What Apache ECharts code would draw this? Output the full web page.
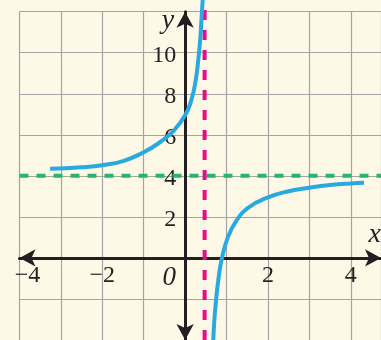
<!DOCTYPE html>
<html>
<head>
<meta charset="utf-8">
<script src="https://cdn.jsdelivr.net/npm/echarts@6/dist/echarts.min.js"></script>
<style>
  html, body { margin: 0; padding: 0; background: #fef8e6; }
  #chart { width: 381px; height: 340px; }
</style>
</head>
<body>
<div id="chart"></div>
<script>
// Branch of the curve left of the vertical asymptote: [x, y]
const leftBranch = [
  [-3.26, 4.34], [-2.5, 4.42], [-2.0, 4.52], [-1.5, 4.72], [-1.0, 5.15],
  [-0.6, 5.65], [-0.3, 6.15], [0.0, 6.95], [0.15, 7.7], [0.25, 8.6],
  [0.32, 9.7], [0.37, 10.8], [0.40, 11.8], [0.425, 12.6]
];
// Branch right of the vertical asymptote: [x, y]
const rightBranch = [
  [0.675, -4.3], [0.70, -3.2], [0.74, -2.2], [0.80, -1.1], [0.89, 0],
  [1.04, 1.05], [1.25, 1.85], [1.5, 2.42], [2.0, 2.95], [2.5, 3.25],
  [3.0, 3.42], [3.5, 3.55], [4.0, 3.63], [4.32, 3.66]
];
// Asymptotes
const verticalAsymptoteX = 0.47;
const horizontalAsymptoteY = 4;
// Axis extents and tick labels
const xRange = [-4, 4.73];
const yRange = [-4, 12];
const yTopOverflow = 12.6;
const xTickValues = [-4, -2, 0, 2, 4];
const xTickLabels = ['\u22124', '\u22122', '0', '2', '4'];
const yTickValues = [2, 4, 6, 8, 10];
const yTickLabels = ['2', '4', '6', '8', '10'];

const ink = '#231f20';
const serif = '"Liberation Serif", "DejaVu Serif", serif';
const gridBox = { left: 19.5, right: 0, top: 11.7, bottom: 0 };

const chart = echarts.init(document.getElementById('chart'), null, { renderer: 'canvas' });

const axisLineStyle = {
  onZero: false,
  symbol: ['arrow', 'arrow'],
  symbolSize: [13, 16],
  lineStyle: { color: ink, width: 3 }
};
const gridLineStyle = { show: true, lineStyle: { color: '#a5a5a5', width: 1.2 } };

chart.setOption({
  backgroundColor: '#fef8e6',
  animation: false,
  grid: Object.assign({ containLabel: false, outerBoundsMode: 'none' }, gridBox),
  xAxis: {
    type: 'value',
    position: 'bottom',
    min: xRange[0], max: xRange[1], interval: 1,
    name: 'x',
    nameLocation: 'end',
    nameGap: 0,
    nameTextStyle: {
      fontFamily: serif, fontStyle: 'italic', fontSize: 28, color: ink,
      align: 'right', verticalAlign: 'bottom', padding: [0, 0, 9, 0]
    },
    axisLine: axisLineStyle,
    axisTick: { show: false },
    splitLine: gridLineStyle,
    axisLabel: {
      margin: 6,
      fontFamily: serif, fontSize: 24, color: ink,
      formatter: function (v) {
        const i = xTickValues.indexOf(v);
        if (i < 0) return '';
        if (v === 0) return '{o|' + xTickLabels[i] + '}';
        if (v === xRange[0]) return '{e|' + xTickLabels[i] + '}';
        return xTickLabels[i];
      },
      rich: {
        o: { fontFamily: serif, fontStyle: 'italic', fontSize: 27, color: ink, padding: [0, 32, 0, 0] },
        e: { fontFamily: serif, fontSize: 24, color: ink, padding: [0, 0, 0, 16] }
      }
    }
  },
  yAxis: {
    type: 'value',
    position: 'left',
    min: yRange[0], max: yRange[1], interval: 2,
    name: 'y',
    nameLocation: 'end',
    nameGap: 5,
    nameTextStyle: {
      fontFamily: serif, fontStyle: 'italic', fontSize: 28, color: ink,
      align: 'right', verticalAlign: 'top', padding: [0, 11, 0, 0]
    },
    axisLine: axisLineStyle,
    axisTick: { show: false },
    splitLine: gridLineStyle,
    axisLabel: {
      margin: 9,
      fontFamily: serif, fontSize: 24, color: ink,
      formatter: function (v) {
        const i = yTickValues.indexOf(v);
        return i < 0 ? '' : '{n|' + yTickLabels[i] + '}';
      },
      rich: {
        n: { fontFamily: serif, fontSize: 24, color: ink, padding: [5, 0, 0, 0] }
      }
    }
  },
  series: [
    {
      type: 'line',
      data: [[xRange[0], horizontalAsymptoteY], [xRange[1], horizontalAsymptoteY]],
      showSymbol: false, clip: false, z: 0,
      lineStyle: { color: '#26b56e', width: 4, type: [9, 8] }
    },
    {
      type: 'line',
      data: [[verticalAsymptoteX, yRange[0]], [verticalAsymptoteX, yTopOverflow]],
      showSymbol: false, clip: false,
      lineStyle: { color: '#ec0a86', width: 4, type: [10, 10] }
    },
    {
      type: 'line',
      data: leftBranch,
      smooth: true,
      showSymbol: false, clip: false,
      lineStyle: { color: '#27aae1', width: 4 }
    },
    {
      type: 'line',
      data: rightBranch,
      smooth: true,
      showSymbol: false, clip: false,
      lineStyle: { color: '#27aae1', width: 4 }
    }
  ]
});

// Move both axes (line, labels, names) onto the origin of the coordinate system.
const origin = chart.convertToPixel({ gridIndex: 0 }, [0, 0]);
const rect = chart.getModel().getComponent('grid', 0).coordinateSystem.getRect();
chart.setOption({
  xAxis: { offset: -(rect.y + rect.height - origin[1]) },
  yAxis: { offset: -(origin[0] - rect.x) }
});
</script>
</body>
</html>
